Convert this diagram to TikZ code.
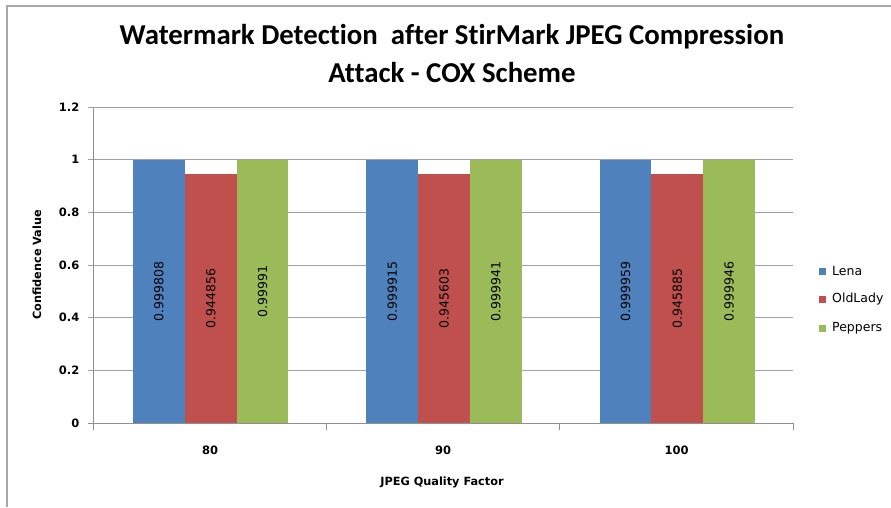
\documentclass[tikz,border=0pt]{standalone}
\usepackage{fontspec}
\setmainfont{DejaVu Sans}
\newfontfamily\titlefont[Ligatures={NoCommon}]{Carlito}
\definecolor{cblue}{HTML}{4F81BD}
\definecolor{cred}{HTML}{C0504D}
\definecolor{cgreen}{HTML}{9BBB59}
\definecolor{gridc}{HTML}{A0A0A0}
\definecolor{framec}{HTML}{A8A8A8}
\begin{document}
\begin{tikzpicture}[x=1pt,y=-1pt,
  gridline/.style={draw=gridc,line width=1pt},
  axisline/.style={draw=gridc!90!black,line width=1pt},
  titletext/.style={font=\titlefont\bfseries\fontsize{28.8}{32}\selectfont,inner sep=0pt},
  ticklabel/.style={font=\bfseries\fontsize{11.5}{13}\selectfont,inner sep=0pt},
  axtitle/.style={font=\bfseries\fontsize{11.3}{13}\selectfont,inner sep=0pt},
  datalabel/.style={font=\fontsize{12.5}{14}\selectfont,inner sep=0pt,rotate=90},
  legtext/.style={font=\fontsize{12.5}{14}\selectfont,inner sep=0pt,anchor=west},
  legbox/.style={minimum size=7pt,inner sep=0pt,draw=none}
]
\useasboundingbox (0,0) rectangle (891,507);
\fill[white] (0,0) rectangle (891,507);
% chart frame
\draw[framec,line width=2pt] (6.5,507) -- (6.5,5.5) -- (891,5.5);
% title
\node[titletext] (t1) at (452,37) {Watermark Detection\ \ after StirMark JPEG Compression};
\node[titletext] (t2) at (452,72) {Attack - COX Scheme};
% gridlines and y tick labels
\foreach \v/\lab in {0/0,0.2/0.2,0.4/0.4,0.6/0.6,0.8/0.8,1/1,1.2/1.2}{
  \draw[gridline] (88,{423-\v*263.333}) -- (793,{423-\v*263.333});
  \node[ticklabel,anchor=east] (yl\lab) at (79.5,{423-\v*263.333}) {\lab};
}
% y axis
\draw[axisline] (93,107) -- (93,423);
% bars
\foreach \g/\a/\b/\c/\la/\lb/\lc in {0/0.999808/0.944856/0.99991/0.999808/0.944856/0.99991,
                      1/0.999915/0.945603/0.999941/0.999915/0.945603/0.999941,
                      2/0.999959/0.945885/0.999946/0.999959/0.945885/0.999946}{
  \pgfmathsetmacro{\xs}{93+\g*233.333+40}
  \fill[cblue] (\xs,423) rectangle ({\xs+51.8},{423-\a*263.333});
  \fill[cred] ({\xs+51.8},423) rectangle ({\xs+103.6},{423-\b*263.333});
  \fill[cgreen] ({\xs+103.6},423) rectangle ({\xs+155.4},{423-\c*263.333});
  \node[datalabel] (da\g) at ({\xs+25.9},{423-\a*131.667}) {\la};
  \node[datalabel] (db\g) at ({\xs+77.7},{423-\b*131.667}) {\lb};
  \node[datalabel] (dc\g) at ({\xs+129.5},{423-\c*131.667}) {\lc};
}
% x axis
\draw[axisline] (88,423) -- (793,423);
\foreach \xx in {93,326.333,559.667,793}{
  \draw[axisline] (\xx,423) -- (\xx,429.5);
}
\node[ticklabel] (c80) at (210,450) {80};
\node[ticklabel] (c90) at (443,450) {90};
\node[ticklabel] (c100) at (676.5,450) {100};
% axis titles
\node[axtitle] (xt) at (442,482) {JPEG Quality Factor};
\node[axtitle,rotate=90] (yt) at (37,265) {Confidence Value};
% legend
\node[legbox,fill=cblue] (lb1) at (822.5,271) {};
\node[legtext] (lt1) at (832,271.5) {Lena};
\node[legbox,fill=cred] (lb2) at (822.5,299) {};
\node[legtext] (lt2) at (832,299.5) {OldLady};
\node[legbox,fill=cgreen] (lb3) at (822.5,328) {};
\node[legtext] (lt3) at (832,328.5) {Peppers};
\end{tikzpicture}
\end{document}
